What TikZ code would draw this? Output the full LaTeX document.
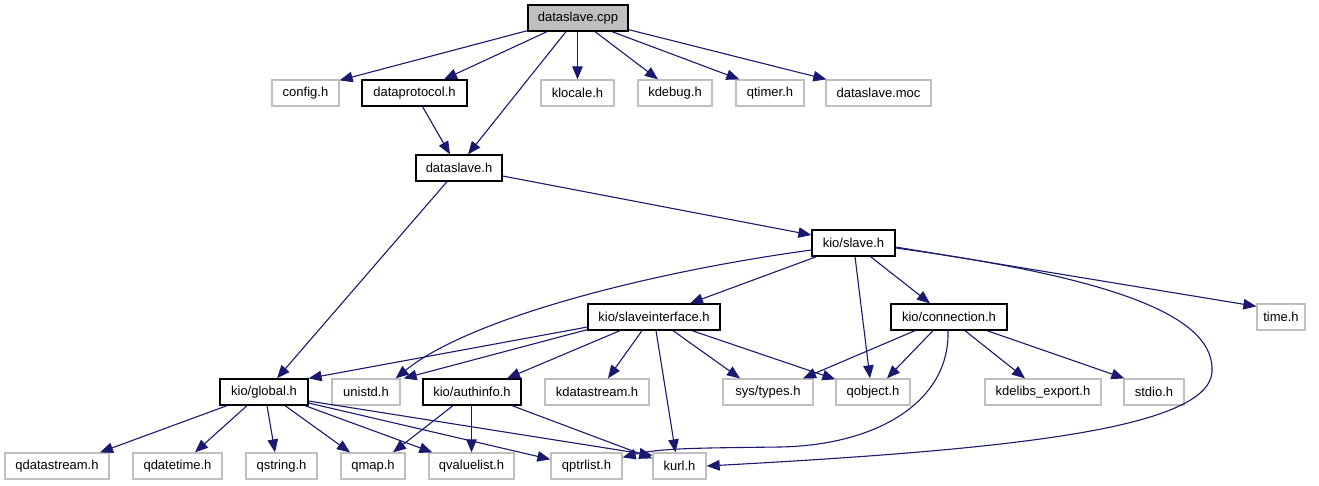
\documentclass[tikz,border=0pt]{standalone}
\usepackage{fontspec}
\setmainfont{Liberation Sans}
\usetikzlibrary{arrows.meta}
\definecolor{edgeblue}{HTML}{191970}
\definecolor{boxgray}{HTML}{BFBFBF}
\begin{document}
\begin{tikzpicture}[x=1pt,y=-1pt,
  base/.style={rectangle, inner sep=0pt, minimum height=26pt, font=\fontsize{13}{14}\selectfont},
  hbox/.style={base, draw=black, line width=1.3pt, fill=white},
  gbox/.style={base, draw=boxgray, line width=1.3pt, fill=white},
  rootbox/.style={base, draw=black, line width=1.3pt, fill=boxgray},
  dep/.style={draw=edgeblue, line width=1.1pt, -{Triangle[length=13pt,width=10.5pt]}, edgeblue}
]
\useasboundingbox[fill=white] (0,0) rectangle (1319,485);
% row 1
\node[rootbox, minimum width=100pt] (cpp) at (578,18) {dataslave.cpp};
% row 2
\node[gbox, minimum width=67pt] (config) at (305.5,93) {config.h};
\node[hbox, minimum width=105pt] (dp) at (414.5,93) {dataprotocol.h};
\node[gbox, minimum width=73pt] (klocale) at (577.5,93) {klocale.h};
\node[gbox, minimum width=74pt] (kdebug) at (675,93) {kdebug.h};
\node[gbox, minimum width=68pt] (qtimer) at (770,93) {qtimer.h};
\node[gbox, minimum width=105pt] (moc) at (878.5,93) {dataslave.moc};
% row 3
\node[hbox, minimum width=86pt] (dsh) at (459,168) {dataslave.h};
% row 4
\node[hbox, minimum width=83pt] (slave) at (853.5,243) {kio/slave.h};
% row 5
\node[hbox, minimum width=132pt] (si) at (654,317) {kio/slaveinterface.h};
\node[hbox, minimum width=116pt] (conn) at (949,317) {kio/connection.h};
\node[gbox, minimum width=48pt] (time) at (1281,317) {time.h};
% row 6
\node[hbox, minimum width=88pt] (global) at (264,392) {kio/global.h};
\node[gbox, minimum width=68pt] (unistd) at (366,392) {unistd.h};
\node[hbox, minimum width=98pt] (auth) at (472,392) {kio/authinfo.h};
\node[gbox, minimum width=104pt] (kds) at (597,392) {kdatastream.h};
\node[gbox, minimum width=90pt] (st) at (768,392) {sys/types.h};
\node[gbox, minimum width=74pt] (qobject) at (873,392) {qobject.h};
\node[gbox, minimum width=116pt] (kde) at (1043,392) {kdelibs\_export.h};
\node[gbox, minimum width=60pt] (stdio) at (1154,392) {stdio.h};
% row 7
\node[gbox, minimum width=104pt] (qds) at (57,466) {qdatastream.h};
\node[gbox, minimum width=89pt] (qdt) at (177.5,466) {qdatetime.h};
\node[gbox, minimum width=71pt] (qstr) at (281.5,466) {qstring.h};
\node[gbox, minimum width=64pt] (qmap) at (373,466) {qmap.h};
\node[gbox, minimum width=85pt] (qvl) at (471.5,466) {qvaluelist.h};
\node[gbox, minimum width=71pt] (qptr) at (586.5,466) {qptrlist.h};
\node[gbox, minimum width=53pt] (kurl) at (679.5,466) {kurl.h};

% edges from dataslave.cpp
\draw[dep] ([yshift=1pt]cpp.south west) -- ([yshift=-1pt]config.north east);
\draw[dep] ([xshift=-31pt]cpp.south) -- ([xshift=29.5pt]dp.north);
\draw[dep] ([xshift=-12pt]cpp.south) -- ([xshift=9pt]dsh.north);
\draw[dep] ([xshift=-0.5pt]cpp.south) -- (klocale.north);
\draw[dep] ([xshift=17pt]cpp.south) -- ([xshift=-17pt]kdebug.north);
\draw[dep] ([xshift=34pt]cpp.south) -- ([xshift=4pt]qtimer.north west);
\draw[dep] ([yshift=2pt]cpp.south east) -- ([xshift=1pt]moc.north west);
% dataprotocol, dataslave.h
\draw[dep] ([xshift=8pt]dp.south) -- ([xshift=-9pt]dsh.north);
\draw[dep] ([yshift=-8pt]dsh.east) -- ([yshift=8pt]slave.west);
\draw[dep] ([xshift=-12pt]dsh.south) -- ([xshift=13pt]global.north);
% kio/slave.h
\draw[dep] ([yshift=-7pt]slave.west) .. controls (650,272) and (470,318) .. ([xshift=-5pt]unistd.north east);
\draw[dep] ([xshift=-37pt]slave.south) -- ([xshift=36pt]si.north);
\draw[dep] ([xshift=1.5pt]slave.south) -- ([xshift=-3pt]qobject.north);
\draw[dep] ([xshift=17pt]slave.south) -- ([xshift=-19pt]conn.north);
\draw[dep] ([yshift=-4pt]slave.east) -- ([yshift=-3pt]time.north west);
\draw[dep] ([yshift=-5pt]slave.east) .. controls (1130,280) and (1215,320) .. (1212,372)
  .. controls (1208,430) and (1000,450) .. (kurl.east);
% kio/slaveinterface.h
\draw[dep] ([yshift=-10pt]si.west) -- (global.north east);
\draw[dep] ([yshift=1pt]si.south west) -- ([xshift=3pt]unistd.north east);
\draw[dep] ([xshift=-34pt]si.south) -- ([xshift=35pt]auth.north);
\draw[dep] ([xshift=-12pt]si.south) -- ([xshift=11pt]kds.north);
\draw[dep] ([xshift=2pt]si.south) -- ([xshift=-4pt]kurl.north);
\draw[dep] ([xshift=19pt]si.south) -- ([xshift=-28pt]st.north);
\draw[dep] ([xshift=38pt]si.south) -- ([yshift=-1pt]qobject.north west);
% kio/connection.h
\draw[dep] ([xshift=-34pt]conn.south) -- ([xshift=35pt]st.north);
\draw[dep] ([xshift=-16pt]conn.south) -- ([xshift=14pt]qobject.north);
\draw[dep] ([xshift=-1pt]conn.south) .. controls (950,400) and (880,445) .. (780,447)
  .. controls (700,448) and (660,448) .. ([yshift=-5pt]qptr.north east);
\draw[dep] ([xshift=16pt]conn.south) -- ([xshift=-18pt]kde.north);
\draw[dep] ([xshift=38pt]conn.south) -- ([xshift=1pt]stdio.north west);
% kio/global.h
\draw[dep] ([xshift=-37pt]global.south) -- ([xshift=43pt]qds.north);
\draw[dep] ([xshift=-17pt]global.south) -- ([xshift=17.5pt]qdt.north);
\draw[dep] ([xshift=3pt]global.south) -- ([xshift=-6.5pt]qstr.north);
\draw[dep] ([xshift=21pt]global.south) -- ([xshift=-23pt]qmap.north);
\draw[dep] ([xshift=41pt]global.south) -- ([xshift=4pt]qvl.north west);
\draw[dep] ([yshift=-11pt]global.east) -- ([yshift=-7pt]qptr.north west);
\draw[dep] ([yshift=-9pt]global.east) -- ([yshift=-3pt]kurl.north west);
% kio/authinfo.h
\draw[dep] ([xshift=-19pt]auth.south) -- ([xshift=20pt]qmap.north);
\draw[dep] ([xshift=-0.5pt]auth.south) -- (qvl.north);
\draw[dep] ([xshift=40pt]auth.south) -- ([yshift=-6pt]kurl.north west);
\end{tikzpicture}
\end{document}
